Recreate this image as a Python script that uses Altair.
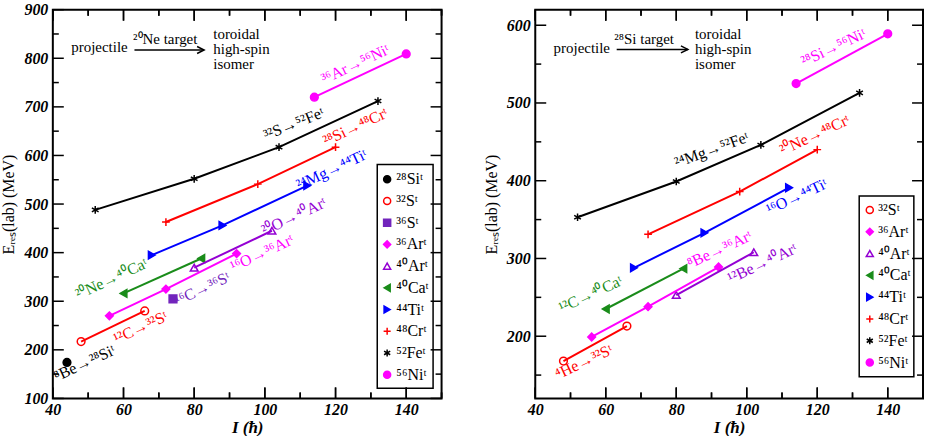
import altair as alt
import pandas as pd

# ---------------------------------------------------------------------------
# Toroidal high-spin isomers (legend entries) and how each one is drawn
# ---------------------------------------------------------------------------
PLUS = "M-1,0L1,0M0,-1L0,1"
STAR = "M0,-1L0,1M-0.87,-0.5L0.87,0.5M-0.87,0.5L0.87,-0.5"

NUCLIDES = ["²⁸Siᵗ", "³²Sᵗ", "³⁶Sᵗ", "³⁶Arᵗ", "⁴⁰Arᵗ",
            "⁴⁰Caᵗ", "⁴⁴Tiᵗ", "⁴⁸Crᵗ", "⁵²Feᵗ", "⁵⁶Niᵗ"]
LINE_COLORS = ["#000000", "#ff0000", "#7224bc", "#ff00ff", "#9400d3",
               "#1a8c1a", "#0000ff", "#ff0000", "#000000", "#ff00ff"]
FILL_COLORS = ["#000000", "transparent", "#7224bc", "#ff00ff", "transparent",
               "#1a8c1a", "#0000ff", "transparent", "transparent", "#ff00ff"]
SHAPES = ["circle", "circle", "square", "diamond", "triangle-up",
          "triangle-left", "triangle-right", PLUS, STAR, "circle"]

# ---------------------------------------------------------------------------
# 20Ne target: (I [hbar], E_res(lab) [MeV])
# ---------------------------------------------------------------------------
ne_si28 = [(44, 174)]
ne_s32 = [(48, 217), (66, 280)]
ne_s36 = [(74, 305)]
ne_ar36 = [(56, 270), (72, 325), (92, 398)]
ne_ar40 = [(80, 369), (102, 445)]
ne_ca40 = [(60, 316), (82, 388)]
ne_ti44 = [(68, 395), (88, 456), (112, 538)]
ne_cr48 = [(72, 463), (98, 541), (120, 617)]
ne_fe52 = [(52, 488), (80, 552), (104, 617), (132, 712)]
ne_ni56 = [(114, 720), (140, 809)]

# ---------------------------------------------------------------------------
# 28Si target: (I [hbar], E_res(lab) [MeV])
# ---------------------------------------------------------------------------
si_s32 = [(48, 168), (66, 213)]
si_ar36 = [(56, 199), (72, 238), (92, 289)]
si_ar40 = [(80, 253), (102, 308)]
si_ca40 = [(60, 235), (82, 287)]
si_ti44 = [(68, 288), (88, 333), (112, 391)]
si_cr48 = [(72, 331), (98, 386), (120, 440)]
si_fe52 = [(52, 353), (80, 399), (104, 446), (132, 513)]
si_ni56 = [(114, 525), (140, 589)]

# Reaction labels: text, isomer it belongs to, anchor (I, E), text angle
ne_reactions = [
    ("³⁶Ar→⁵⁶Niᵗ", "⁵⁶Niᵗ", 125.6, 787.7, 335),
    ("³²S→⁵²Feᵗ", "⁵²Feᵗ", 108.2, 665.0, 338),
    ("²⁸Si→⁴⁸Crᵗ", "⁴⁸Crᵗ", 125.6, 658.7, 335),
    ("²⁴Mg→⁴⁴Tiᵗ", "⁴⁴Tiᵗ", 118.9, 570.6, 335),
    ("²⁰O→⁴⁰Arᵗ", "⁴⁰Arᵗ", 108.2, 474.4, 335),
    ("¹⁶O→³⁶Arᵗ", "³⁶Arᵗ", 99.2, 399.0, 335),
    ("¹⁶C→³⁶Sᵗ", "³⁶Sᵗ", 82.3, 325.6, 335),
    ("²⁰Ne→⁴⁰Caᵗ", "⁴⁰Caᵗ", 56.6, 346.0, 335),
    ("¹²C→³²Sᵗ", "³²Sᵗ", 64.8, 245.8, 335),
    ("⁸Be→²⁸Siᵗ", "²⁸Siᵗ", 49.0, 172.4, 335),
]
si_reactions = [
    ("²⁸Si→⁵⁶Niᵗ", "⁵⁶Niᵗ", 124.6, 571.4, 335),
    ("²⁴Mg→⁵²Feᵗ", "⁵²Feᵗ", 90.0, 439.6, 340),
    ("²⁰Ne→⁴⁸Crᵗ", "⁴⁸Crᵗ", 119.3, 458.8, 335),
    ("¹⁶O→⁴⁴Tiᵗ", "⁴⁴Tiᵗ", 114.2, 379.4, 335),
    ("⁸Be→³⁶Arᵗ", "³⁶Arᵗ", 92.3, 311.5, 335),
    ("¹²Be→⁴⁰Arᵗ", "⁴⁰Arᵗ", 104.4, 293.6, 335),
    ("¹²C→⁴⁰Caᵗ", "⁴⁰Caᵗ", 55.7, 253.9, 335),
    ("⁴He→³²Sᵗ", "³²Sᵗ", 53.8, 166.8, 335),
]

# Scheme "projectile --target--> toroidal high-spin isomer" in the upper left
ne_scheme = {"target": "²⁰Ne target", "proj": (53.2, 822.5), "tgt": (71.8, 838.9),
             "arrow": (63.1, 82.8, 817.0), "iso_x": 85.4, "iso_y": [849.1, 818.4, 787.7]}
si_scheme = {"target": "²⁸Si target", "proj": (53.2, 570.2), "tgt": (70.9, 581.7),
             "arrow": (63.1, 83.3, 568.9), "iso_x": 85.3, "iso_y": [588.1, 568.9, 549.7]}
ISOMER_LINES = ["toroidal", "high-spin", "isomer"]

# Legend boxes in data units: box (I0, I1, E_top, E_bottom), symbol I, label I,
# first row E, row step in E
ne_key = {"box": (131.8, 147.6, 581.2, 121.1), "sym": 134.6, "lab": 137.2,
          "row0": 551.1, "step": 44.7}
si_key = {"box": (131.9, 147.4, 380.3, 148.0), "sym": 134.9, "lab": 137.3,
          "row0": 362.4, "step": 28.04}

X_MAJOR = [40, 60, 80, 100, 120, 140]
X_MINOR = [50, 70, 90, 110, 130, 150]

SERIF = "Liberation Serif"
TEXT_SIZE = 16
MAJOR_LEN, MINOR_LEN = 11, 6  # tick lengths in pixels
TICK_WIDTH = 1.5              # tick stroke width in pixels


def build_panel(series, reactions, scheme, key, xdom, ydom, y_major, y_minor,
                width, height):
    names = [n for n, _ in series]
    colors = [LINE_COLORS[NUCLIDES.index(n)] for n in names]
    fills = [FILL_COLORS[NUCLIDES.index(n)] for n in names]
    shapes = [SHAPES[NUCLIDES.index(n)] for n in names]

    rows = [{"nuclide": n, "I": i, "E": e} for n, pts in series for i, e in pts]
    df = pd.DataFrame(rows)
    ann = pd.DataFrame(reactions, columns=["label", "nuclide", "I", "E", "angle"])

    xs = alt.Scale(domain=xdom, nice=False, zero=False)
    ys = alt.Scale(domain=ydom, nice=False, zero=False)

    label_style = dict(labelFont=SERIF, labelFontSize=16, labelFontStyle="italic",
                       labelFontWeight="bold", labelColor="black", labelFlush=False,
                       labelOverlap=False, ticks=False, domain=False, grid=False,
                       titleFont=SERIF, titleColor="black")
    x_axis = alt.Axis(orient="bottom", values=X_MAJOR, labelPadding=3,
                      title="I  (ħ)", titleFontStyle="italic", titleFontWeight="bold",
                      titleFontSize=17, titlePadding=2, **label_style)
    y_axis = alt.Axis(orient="left", values=y_major, labelPadding=5,
                      title="Eᵣₑₛ(lab)  (MeV)", titleFontStyle="normal",
                      titleFontWeight="normal", titleFontSize=16, titlePadding=7,
                      **label_style)

    # every layer carries the same axis definitions so the shared axes merge
    def X(field):
        return alt.X(field, type="quantitative", scale=xs, axis=x_axis)

    def Y(field):
        return alt.Y(field, type="quantitative", scale=ys, axis=y_axis)

    color_enc = alt.Color("nuclide:N", scale=alt.Scale(domain=names, range=colors),
                          legend=None)
    shape_enc = alt.Shape("nuclide:N", scale=alt.Scale(domain=names, range=shapes),
                          legend=None)
    fill_enc = alt.Fill("nuclide:N", scale=alt.Scale(domain=names, range=fills),
                        legend=None)
    stroke_enc = alt.Stroke("nuclide:N", scale=alt.Scale(domain=names, range=colors),
                            legend=None)

    lines = alt.Chart(df).mark_line(strokeWidth=2).encode(
        x=X("I"), y=Y("E"), color=color_enc)

    points = alt.Chart(df).mark_point(size=60, strokeWidth=1.5, opacity=1,
                                      fillOpacity=1).encode(
        x=X("I"), y=Y("E"), shape=shape_enc, fill=fill_enc, stroke=stroke_enc)

    labels = alt.Chart(ann).mark_text(font=SERIF, fontSize=TEXT_SIZE,
                                      align="center", baseline="middle").encode(
        x=X("I"), y=Y("E"), text="label:N",
        angle=alt.Angle("angle:Q", scale=None), color=color_enc)

    # reaction scheme in the upper-left corner
    centred = pd.DataFrame([
        {"t": "projectile", "I": scheme["proj"][0], "E": scheme["proj"][1]},
        {"t": scheme["target"], "I": scheme["tgt"][0], "E": scheme["tgt"][1]},
    ])
    iso = pd.DataFrame([{"t": t, "I": scheme["iso_x"], "E": y}
                        for t, y in zip(ISOMER_LINES, scheme["iso_y"])])
    a0, a1, ay = scheme["arrow"]
    arrow_df = pd.DataFrame([{"I": a0, "I2": a1, "E": ay}])

    scheme_c = alt.Chart(centred).mark_text(font=SERIF, fontSize=15, color="black",
                                            align="center", baseline="middle").encode(
        x=X("I"), y=Y("E"), text="t:N")
    scheme_l = alt.Chart(iso).mark_text(font=SERIF, fontSize=15, color="black",
                                        align="left", baseline="middle").encode(
        x=X("I"), y=Y("E"), text="t:N")
    shaft = alt.Chart(arrow_df).mark_rule(color="black", strokeWidth=1.5).encode(
        x=X("I"), x2="I2:Q", y=Y("E"))
    head = alt.Chart(arrow_df).mark_point(
        shape="M-1,-0.5L0,0L-1,0.5", size=196, stroke="black", strokeWidth=1.5,
        fill="transparent", opacity=1).encode(x=X("I2"), y=Y("E"))

    # key: framed box with one symbol + name per isomer
    b0, b1, bt, bb = key["box"]
    box = alt.Chart(pd.DataFrame([{"I": b0, "I2": b1, "E": bt, "E2": bb}])).mark_rect(
        fill="white", stroke="black", strokeWidth=1.5).encode(
        x=X("I"), x2="I2:Q", y=Y("E"), y2="E2:Q")
    key_df = pd.DataFrame([{"nuclide": n, "Is": key["sym"], "Il": key["lab"],
                            "E": key["row0"] - k * key["step"]}
                           for k, n in enumerate(names)])
    key_sym = alt.Chart(key_df).mark_point(size=50, strokeWidth=1.5, opacity=1,
                                           fillOpacity=1).encode(
        x=X("Is"), y=Y("E"), shape=shape_enc, fill=fill_enc, stroke=stroke_enc)
    key_lab = alt.Chart(key_df).mark_text(font=SERIF, fontSize=16, color="black",
                                          align="left", baseline="middle").encode(
        x=X("Il"), y=Y("E"), text="nuclide:N")

    # inward tick marks on all four sides of the frame
    lo, hi = ydom
    e_per_px = (hi - lo) / height
    i_per_px = (xdom[1] - xdom[0]) / width
    half_w = TICK_WIDTH / 2 * i_per_px
    x_tick_rows = []
    for vals, n in ((X_MAJOR, MAJOR_LEN), (X_MINOR, MINOR_LEN)):
        for v in vals:
            for edge, sign in ((lo, 1), (hi, -1)):
                x_tick_rows.append({"I": v, "I0": v - half_w, "I1": v + half_w,
                                    "E": edge, "E2": edge + sign * n * e_per_px})
    x_tick_df = pd.DataFrame(x_tick_rows)
    x_tick_bars = alt.Chart(x_tick_df).mark_rect(color="black", opacity=1).encode(
        x=X("I0"), x2="I1:Q", y=Y("E"), y2="E2:Q")
    x_tick_rules = alt.Chart(x_tick_df).mark_rule(
        color="black", strokeWidth=TICK_WIDTH).encode(x=X("I"), y=Y("E"), y2="E2:Q")

    tick_layers = [x_tick_bars, x_tick_rules]
    for vals, n in ((y_major, MAJOR_LEN), (y_minor, MINOR_LEN)):
        base = alt.Chart(pd.DataFrame({"E": vals})).mark_rule(
            color="black", strokeWidth=TICK_WIDTH)
        tick_layers.append(base.encode(y=Y("E"), x=alt.value(0), x2=alt.value(n)))
        tick_layers.append(base.encode(y=Y("E"), x=alt.value(width),
                                       x2=alt.value(width - n)))

    return alt.layer(
        points, lines, labels, scheme_c, scheme_l, shaft, head,
        box, key_sym, key_lab, *tick_layers
    ).properties(width=width, height=height)


ne_series = [("²⁸Siᵗ", ne_si28), ("³²Sᵗ", ne_s32), ("³⁶Sᵗ", ne_s36),
             ("³⁶Arᵗ", ne_ar36), ("⁴⁰Arᵗ", ne_ar40), ("⁴⁰Caᵗ", ne_ca40),
             ("⁴⁴Tiᵗ", ne_ti44), ("⁴⁸Crᵗ", ne_cr48), ("⁵²Feᵗ", ne_fe52),
             ("⁵⁶Niᵗ", ne_ni56)]
si_series = [("³²Sᵗ", si_s32), ("³⁶Arᵗ", si_ar36), ("⁴⁰Arᵗ", si_ar40),
             ("⁴⁰Caᵗ", si_ca40), ("⁴⁴Tiᵗ", si_ti44), ("⁴⁸Crᵗ", si_cr48),
             ("⁵²Feᵗ", si_fe52), ("⁵⁶Niᵗ", si_ni56)]

left = build_panel(ne_series, ne_reactions, ne_scheme, ne_key, [40, 150], [100, 900],
                   list(range(100, 1000, 100)), list(range(150, 900, 100)), 390, 390)
right = build_panel(si_series, si_reactions, si_scheme, si_key, [40, 150], [120, 620],
                    list(range(200, 700, 100)), list(range(150, 650, 100)), 389, 390)

chart = alt.hconcat(left, right, spacing=39).resolve_scale(
    color="independent", fill="independent", stroke="independent", shape="independent"
).properties(
    padding={"left": 0, "top": 0, "right": 0, "bottom": 0}, background="white"
).configure_view(
    stroke="black", strokeWidth=2
)

chart.save("out.html", embed_options={"renderer": "svg", "actions": False})
